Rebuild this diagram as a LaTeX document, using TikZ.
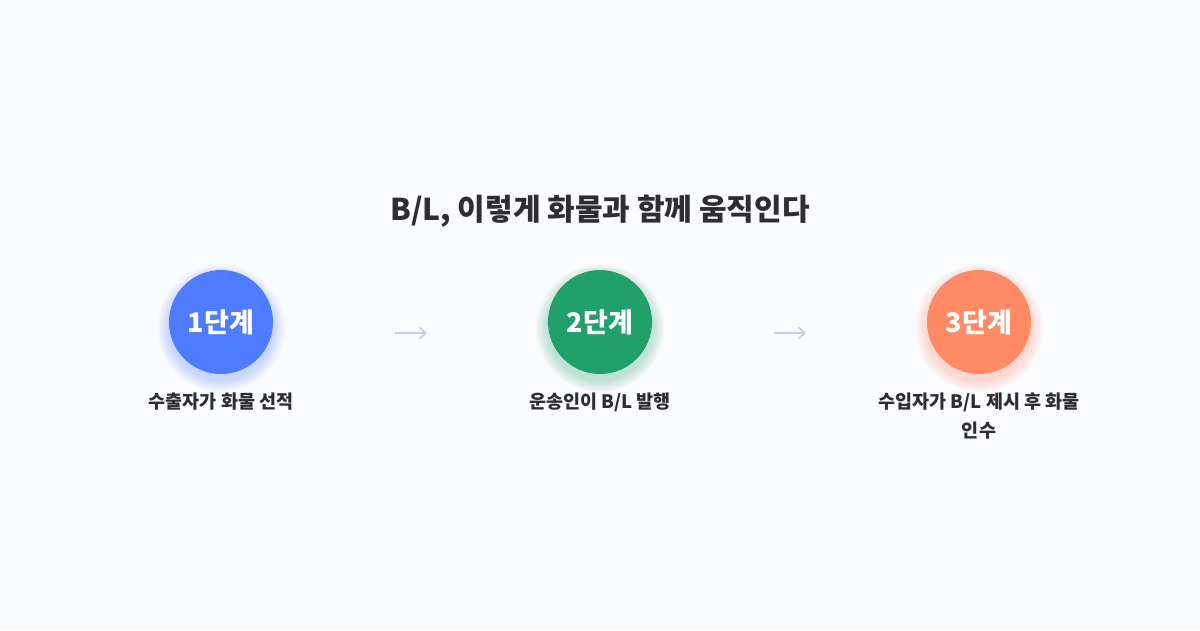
\documentclass[tikz,border=0pt]{standalone}
\usepackage{fontspec}
\setmainfont{Noto Sans CJK KR}
\usetikzlibrary{arrows.meta,positioning}
\definecolor{bgcol}{RGB}{250,251,253}
\definecolor{titlecol}{RGB}{45,45,50}
\definecolor{stepA}{RGB}{79,124,255}
\definecolor{stepB}{RGB}{34,160,107}
\definecolor{stepC}{RGB}{255,138,101}
\definecolor{arrcol}{RGB}{200,208,222}
\tikzset{
  stage/.style={circle,minimum size=104pt,inner sep=0pt,text=white,
    font=\fontsize{27}{30}\selectfont\bfseries},
  desc/.style={font=\fontsize{18.5}{29}\selectfont\bfseries,text=titlecol,
    align=center,anchor=north},
  flow/.style={arrcol,line width=1.8pt,-{Straight Barb[length=6pt,width=11pt]}}
}
\begin{document}
\begin{tikzpicture}[x=1pt,y=-1pt]
  \fill[bgcol] (0,0) rectangle (1200,630);
  \useasboundingbox (0,0) rectangle (1200,630);

  % title
  \node[font=\fontsize{30}{34}\selectfont\bfseries,text=titlecol] (title) at (600,211)
    {B/L, 이렇게 화물과 함께 움직인다};

  % soft glow under the circles
  \foreach \cx/\col in {221/stepA,600/stepB,979/stepC}{
    \foreach \r in {53,54,...,64}
      \fill[\col,opacity=0.025] (\cx,328) circle (\r);
  }

  % stages
  \node[stage,fill=stepA] (s1) at (221,322) {1단계};
  \node[stage,fill=stepB] (s2) at (600,322) {2단계};
  \node[stage,fill=stepC] (s3) at (979,322) {3단계};

  \node[desc] (d1) at (221,389) {수출자가 화물 선적};
  \node[desc] (d2) at (600,389) {운송인이 B/L 발행};
  \node[desc] (d3) at (979,389) {수입자가 B/L 제시 후 화물\\인수};

  % arrows between stages
  \coordinate (a1) at (395,333);
  \coordinate (b1) at (427,333);
  \coordinate (a2) at (774,333);
  \coordinate (b2) at (806,333);
  \draw[flow] (a1) -- (b1);
  \draw[flow] (a2) -- (b2);
\end{tikzpicture}
\end{document}
